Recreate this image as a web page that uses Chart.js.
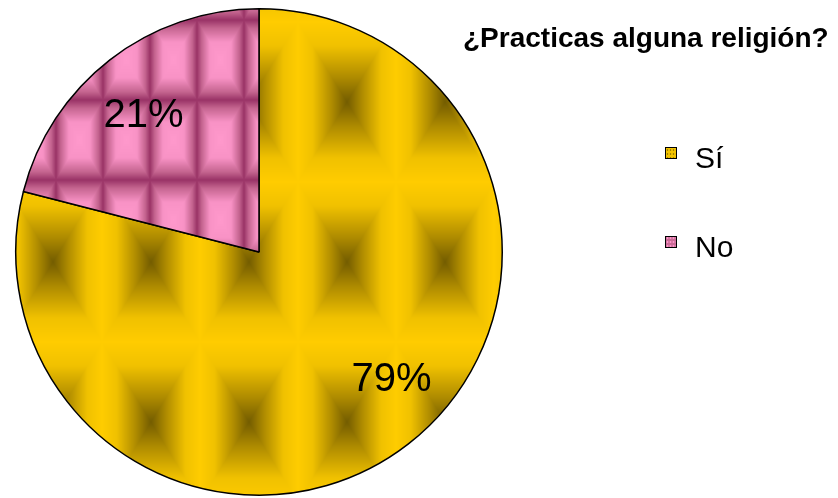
<!DOCTYPE html>
<html>
<head>
<meta charset="utf-8">
<script src="https://cdn.jsdelivr.net/npm/chart.js@4.4.1/dist/chart.umd.min.js"></script>
<style>
    html, body { margin: 0; padding: 0; background: #fff; overflow: hidden; }
    #wrap { width: 838px; height: 498px; }
</style>
</head>
<body>
<div id="wrap"><canvas id="religionPie" width="838" height="498"></canvas></div>
<script>
/* ---------- DATA ---------- */
const chartTitle = "¿Practicas alguna religión?";
const categories = ["Sí", "No"];
const percentages = [79, 21];

const FONT = "'Liberation Sans', Arial, sans-serif";

/* ---------- PATTERN TILES (rectangular "from centre" gradient) ---------- */
function hexRgb(h) {
    const n = parseInt(h.slice(1), 16);
    return [(n >> 16) & 255, (n >> 8) & 255, n & 255];
}

function colorAt(stops, t) {
    for (let i = 1; i < stops.length; i++) {
        if (t <= stops[i][0]) {
            const [t0, c0] = stops[i - 1];
            const [t1, c1] = stops[i];
            const k = (t - t0) / (t1 - t0 || 1);
            return c0.map((v, j) => Math.round(v + (c1[j] - v) * k));
        }
    }
    return stops[stops.length - 1][1];
}

function makePattern(ctx, w, h, stops, ox, oy) {
    const tile = document.createElement("canvas");
    tile.width = w;
    tile.height = h;
    const tctx = tile.getContext("2d");
    const img = tctx.createImageData(w, h);
    const s = stops.map(([t, c]) => [t, hexRgb(c)]);
    for (let y = 0; y < h; y++) {
        for (let x = 0; x < w; x++) {
            const dx = Math.abs(x + 0.5 - w / 2) / (w / 2);
            const dy = Math.abs(y + 0.5 - h / 2) / (h / 2);
            const c = colorAt(s, Math.max(dx, dy));
            const p = (y * w + x) * 4;
            img.data[p] = c[0];
            img.data[p + 1] = c[1];
            img.data[p + 2] = c[2];
            img.data[p + 3] = 255;
        }
    }
    tctx.putImageData(img, 0, 0);
    const pat = ctx.createPattern(tile, "repeat");
    pat.setTransform(new DOMMatrix([1, 0, 0, 1, ox, oy]));
    return pat;
}

const yellowStops = [[0, "#735c00"], [0.3, "#ad8a00"], [0.7, "#f0c100"], [1, "#ffcc00"]];
const pinkStops = [[0, "#ff99cc"], [0.45, "#f892c5"], [0.8, "#c4648f"], [1, "#993366"]];

const canvas = document.getElementById("religionPie");
const ctx = canvas.getContext("2d");

const sliceFills = [
    makePattern(ctx, 98, 160, yellowStops, 4, 22),
    makePattern(ctx, 47, 80, pinkStops, 9, 20)
];
const keyFills = [
    makePattern(ctx, 3, 4, yellowStops, 0, 0),
    makePattern(ctx, 3, 4, pinkStops, 0, 0)
];

/* ---------- LABELS / TITLE / LEGEND ---------- */
// small angular nudge (degrees) and radius fraction for the % labels
const labelPlacement = [
    { nudge: -8.5, frac: 0.754 },
    { nudge: -2.2, frac: 0.738 }
];

const decorPlugin = {
    id: "decor",
    afterDatasetsDraw(chart) {
        const c = chart.ctx;
        const arcs = chart.getDatasetMeta(0).data;
        c.save();
        c.fillStyle = "#000";
        c.font = "40px " + FONT;
        c.textAlign = "center";
        c.textBaseline = "middle";
        arcs.forEach((arc, i) => {
            const p = arc.getProps(["x", "y", "startAngle", "endAngle", "outerRadius"], true);
            const a = (p.startAngle + p.endAngle) / 2 + labelPlacement[i].nudge * Math.PI / 180;
            const r = p.outerRadius * labelPlacement[i].frac;
            c.fillText(percentages[i] + "%", p.x + Math.cos(a) * r, p.y + Math.sin(a) * r + 1);
        });

        // title
        c.font = "bold 28px " + FONT;
        c.textAlign = "left";
        c.textBaseline = "alphabetic";
        c.fillText(chartTitle, 463, 47);

        // legend
        c.font = "30px " + FONT;
        categories.forEach((cat, i) => {
            const y = 147 + i * 89;
            c.fillStyle = keyFills[i];
            c.fillRect(665, y, 11, 11);
            c.strokeStyle = "#000";
            c.lineWidth = 1;
            c.strokeRect(665.5, y + 0.5, 11, 11);
            c.fillStyle = "#000";
            c.fillText(cat, 695, y + 21);
        });
        c.restore();
    }
};

/* ---------- CHART ---------- */
new Chart(canvas, {
    type: "pie",
    data: {
        labels: categories,
        datasets: [{
            data: percentages,
            backgroundColor: sliceFills,
            borderColor: "#000",
            borderWidth: 1.5
        }]
    },
    options: {
        responsive: false,
        animation: false,
        layout: { padding: { left: 15, top: 8, right: 335, bottom: 2 } },
        plugins: {
            legend: { display: false },
            tooltip: { enabled: false },
            title: { display: false }
        }
    },
    plugins: [decorPlugin]
});
</script>
</body>
</html>
